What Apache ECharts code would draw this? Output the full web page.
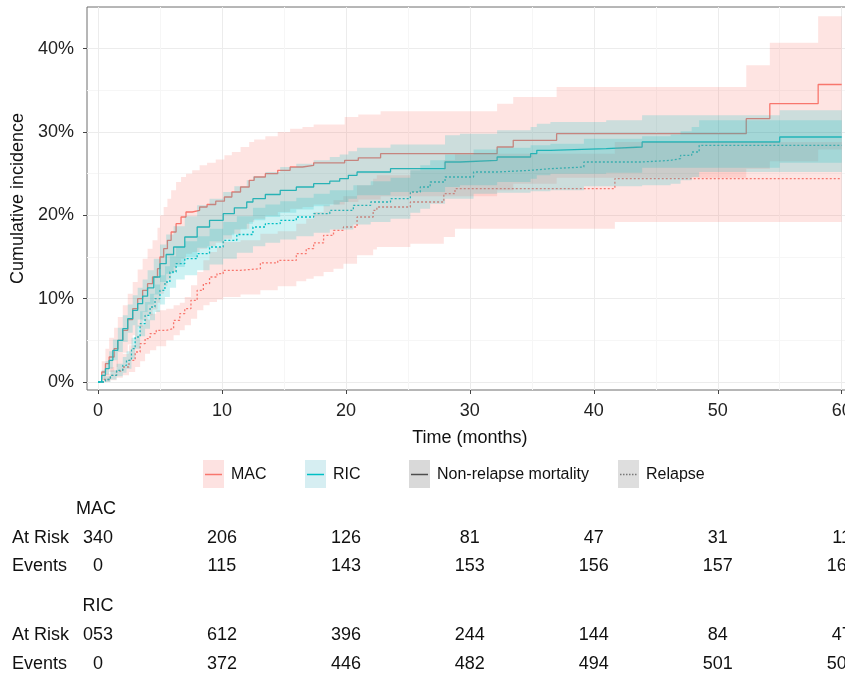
<!DOCTYPE html>
<html>
<head>
<meta charset="utf-8">
<script src="https://cdn.jsdelivr.net/npm/echarts@6/dist/echarts.min.js"></script>
<style>
  html, body { margin: 0; padding: 0; overflow: hidden; background: #fff; }
  #main { width: 900px; height: 678px; }
</style>
</head>
<body>
<div id="main"></div>
<script>
// x ticks (months) and y ticks (%)
const xTicks = [0, 10, 20, 30, 40, 50, 60]
const xMinor = [5, 15, 25, 35, 45, 55]
const yTicks = [0, 10, 20, 30, 40]
const yMinor = [5, 15, 25, 35]

// MAC, non-relapse mortality
const macNrmT = [0, 0.3, 0.6, 0.9, 1.3, 1.6, 2.0, 2.4, 2.8, 3.2, 3.6, 4.0, 4.4, 4.8, 5.0, 5.3, 5.6, 5.9, 6.3, 6.7, 7.1, 7.6, 8.2, 8.8, 9.5, 10.2, 10.8, 11.5, 12.2, 12.6, 13.5, 14.5, 15.5, 16.5, 17.4, 19.9, 21.0, 22.8, 32.2, 33.5, 37.0, 52.3, 54.2, 58.1, 60]
const macNrmEst = [0, 1.2, 2.2, 3.0, 4.0, 5.0, 6.2, 7.5, 8.8, 10.0, 11.0, 11.8, 12.6, 13.6, 15.0, 16.0, 17.0, 18.0, 19.0, 19.8, 20.4, 20.6, 21.0, 21.3, 21.7, 22.2, 22.8, 23.4, 24.2, 24.6, 25.0, 25.4, 25.8, 26.0, 26.3, 26.6, 26.9, 27.4, 28.2, 29.0, 29.8, 31.6, 33.4, 35.7, 35.7]
const macNrmLo = [0, 0.3, 0.8, 1.2, 1.8, 2.6, 3.5, 4.5, 5.6, 6.6, 7.4, 8.0, 8.7, 9.5, 10.6, 11.5, 12.3, 13.2, 14.1, 14.8, 15.4, 15.6, 16.0, 16.3, 16.7, 17.2, 17.8, 18.4, 19.2, 19.6, 20.0, 20.4, 20.8, 21.0, 21.3, 21.6, 21.9, 22.3, 23.0, 23.8, 24.5, 25.6, 26.5, 27.9, 27.9]
const macNrmHi = [0, 2.5, 4.0, 5.3, 6.5, 7.8, 9.2, 10.6, 12.0, 13.5, 14.8, 16.0, 17.0, 18.5, 20.0, 21.0, 22.0, 23.0, 24.0, 24.6, 25.0, 25.4, 26.0, 26.3, 26.7, 27.2, 27.6, 28.2, 28.8, 29.1, 29.5, 30.0, 30.4, 30.6, 30.9, 31.8, 32.1, 32.5, 33.4, 34.2, 35.4, 38.0, 40.7, 43.9, 43.9]

// MAC, relapse
const macRelT = [0, 0.5, 1.0, 1.5, 2.0, 2.5, 3.0, 3.4, 3.8, 4.2, 4.7, 5.5, 6.1, 6.6, 7.0, 7.5, 8.0, 8.5, 9.0, 9.6, 10.1, 11.5, 13.1, 14.5, 16.0, 16.8, 17.4, 18.2, 19.0, 19.8, 20.9, 22.2, 22.5, 25.2, 27.9, 28.8, 41.7, 60]
const macRelEst = [0, 0.3, 0.8, 1.3, 1.8, 2.6, 3.6, 4.6, 5.2, 5.8, 6.2, 6.4, 7.4, 8.2, 8.8, 9.8, 11.0, 11.8, 12.6, 13.0, 13.4, 13.6, 14.3, 14.6, 15.4, 16.0, 16.7, 17.6, 18.2, 18.6, 19.8, 20.6, 21.0, 21.6, 22.6, 23.2, 24.4, 24.4]
const macRelLo = [0, 0, 0.2, 0.5, 0.8, 1.2, 1.8, 2.5, 3.4, 3.8, 4.3, 5.0, 5.6, 6.2, 6.8, 7.6, 8.6, 9.2, 9.6, 9.9, 10.2, 10.5, 11.0, 11.5, 12.1, 12.4, 12.7, 13.2, 13.6, 14.2, 15.2, 15.9, 16.2, 16.6, 17.4, 18.4, 19.2, 19.2]
const macRelHi = [0, 1.0, 1.8, 2.6, 3.4, 4.4, 5.6, 6.8, 7.5, 8.2, 8.6, 8.8, 9.2, 9.5, 10.2, 11.6, 13.2, 14.6, 15.6, 16.2, 16.8, 17.0, 17.8, 18.1, 19.0, 19.6, 20.4, 21.2, 21.8, 22.3, 23.6, 24.4, 24.8, 25.4, 26.6, 27.4, 28.8, 28.8]

// RIC, non-relapse mortality
const ricNrmT = [0, 0.3, 0.6, 0.9, 1.2, 1.6, 2.0, 2.4, 2.8, 3.2, 3.6, 4.0, 4.5, 5.0, 5.5, 6.1, 7.0, 8.0, 9.0, 10.1, 11.0, 12.0, 12.5, 13.5, 14.7, 16.0, 17.4, 18.7, 19.5, 20.2, 20.9, 23.6, 28.0, 29.2, 32.2, 34.9, 35.4, 36.5, 41.0, 43.9, 55.0, 60]
const ricNrmEst = [0, 0.8, 1.6, 2.6, 3.8, 5.0, 6.4, 7.6, 8.6, 9.4, 10.3, 11.3, 12.6, 14.2, 15.3, 16.2, 17.4, 18.6, 19.4, 20.2, 20.9, 21.6, 22.0, 22.5, 23.0, 23.4, 23.8, 24.1, 24.4, 24.8, 25.2, 25.6, 26.4, 26.6, 27.0, 27.4, 27.8, 28.0, 28.2, 28.8, 29.4, 29.4]
const ricNrmLo = [0, 0.3, 0.9, 1.6, 2.6, 3.6, 4.8, 5.9, 6.8, 7.5, 8.4, 9.3, 10.5, 12.0, 13.0, 13.8, 15.0, 16.1, 16.9, 17.6, 18.3, 19.0, 19.4, 19.8, 20.3, 20.7, 21.1, 21.3, 21.6, 22.0, 22.4, 22.8, 23.4, 23.6, 24.0, 24.4, 24.8, 25.0, 25.1, 25.7, 26.3, 26.3]
const ricNrmHi = [0, 1.4, 2.5, 3.7, 5.1, 6.5, 8.0, 9.3, 10.4, 11.3, 12.3, 13.4, 14.8, 16.5, 17.7, 18.7, 19.9, 21.2, 22.0, 22.8, 23.5, 24.2, 24.7, 25.2, 25.8, 26.2, 26.6, 27.0, 27.3, 27.7, 28.1, 28.5, 29.6, 29.8, 30.2, 30.6, 31.0, 31.2, 31.4, 32.0, 32.6, 32.6]

// RIC, relapse
const ricRelT = [0, 0.6, 1.0, 1.5, 2.0, 2.3, 2.7, 3.0, 3.4, 3.8, 4.2, 4.6, 5.0, 5.4, 5.8, 6.3, 7.0, 8.0, 9.0, 10.1, 11.2, 12.5, 13.5, 14.7, 16.0, 17.4, 18.7, 20.6, 22.0, 23.6, 25.2, 26.0, 26.8, 28.0, 30.3, 32.2, 34.9, 36.5, 39.2, 43.9, 46.2, 47.0, 47.9, 48.5, 60]
const ricRelEst = [0, 0.3, 0.8, 1.4, 2.0, 2.6, 4.0, 5.4, 7.0, 8.0, 9.0, 10.0, 11.0, 12.0, 13.2, 14.2, 14.8, 15.4, 16.2, 17.0, 17.7, 18.6, 19.0, 19.4, 19.8, 20.2, 20.6, 21.2, 21.6, 22.0, 22.8, 23.4, 24.0, 24.6, 25.2, 25.4, 25.6, 25.8, 26.4, 26.6, 26.8, 27.2, 27.6, 28.4, 28.4]
const ricRelLo = [0, 0, 0.3, 0.7, 1.1, 1.6, 2.8, 4.0, 5.5, 6.4, 7.4, 8.4, 9.3, 10.2, 11.3, 12.3, 12.8, 13.4, 14.1, 14.8, 15.5, 16.3, 16.7, 17.1, 17.5, 17.9, 18.3, 18.9, 19.2, 19.6, 20.3, 20.8, 21.4, 22.0, 22.6, 22.7, 22.9, 23.0, 23.5, 23.6, 23.8, 24.2, 24.6, 25.2, 25.2]
const ricRelHi = [0, 0.7, 1.4, 2.2, 3.0, 3.7, 5.3, 6.8, 8.5, 9.6, 10.6, 11.7, 12.8, 13.9, 15.1, 16.2, 16.9, 17.5, 18.4, 19.2, 19.9, 20.9, 21.3, 21.7, 22.1, 22.6, 23.0, 23.6, 24.1, 24.5, 25.4, 26.0, 26.6, 27.3, 27.9, 28.1, 28.4, 28.6, 29.2, 29.5, 29.7, 30.1, 30.6, 31.4, 31.4]

// risk table (one value per x tick)
const macAtRisk = ['340', '206', '126', '81', '47', '31', '11']
const macEvents = ['0', '115', '143', '153', '156', '157', '160']
const ricAtRisk = ['053', '612', '396', '244', '144', '84', '47']
const ricEvents = ['0', '372', '446', '482', '494', '501', '502']

const MAC_COLOR = '#F8766D'
const RIC_COLOR = '#00BFC4'
const FONT = 'Liberation Sans, Arial, Helvetica, sans-serif'

const chart = echarts.init(document.getElementById('main'))

function pairs (t, v) {
  return t.map((x, i) => [x, v[i]])
}

// step line for one curve
function stepLine (name, t, v, color, dotted) {
  return {
    name: name,
    type: 'line',
    step: 'end',
    showSymbol: false,
    silent: true,
    z: 2,
    lineStyle: { color: color, width: 1.3, type: dotted ? [2, 2] : 'solid' },
    data: pairs(t, v)
  }
}

// confidence band drawn as one stepped polygon
function band (name, t, lo, hi, fill) {
  return {
    name: name,
    type: 'custom',
    silent: true,
    z: 3,
    encode: { x: 0, y: 1 },
    data: [[0, 0]],
    renderItem: function (params, api) {
      const pts = []
      for (let i = 0; i < t.length; i++) {
        const nx = i < t.length - 1 ? t[i + 1] : t[i]
        pts.push(api.coord([t[i], hi[i]]))
        pts.push(api.coord([nx, hi[i]]))
      }
      for (let i = t.length - 1; i >= 0; i--) {
        const nx = i < t.length - 1 ? t[i + 1] : t[i]
        pts.push(api.coord([nx, lo[i]]))
        pts.push(api.coord([t[i], lo[i]]))
      }
      return { type: 'polygon', shape: { points: pts }, style: { fill: fill } }
    }
  }
}

const X_MIN = -0.887
const X_MAX = 60.887
const Y_MIN = -0.96
const Y_MAX = 45

chart.setOption({
  animation: false,
  textStyle: { fontFamily: FONT },
  grid: {
    left: 87,
    top: 7,
    width: 765.7,
    height: 383,
    show: true,
    borderColor: '#6e6e6e',
    borderWidth: 1
  },
  xAxis: [
    {
      type: 'value',
      min: X_MIN,
      max: X_MAX,
      name: 'Time (months)',
      nameLocation: 'middle',
      nameGap: 39,
      nameTextStyle: { fontSize: 18, color: '#111', fontFamily: FONT },
      axisLine: { show: false, onZero: false },
      axisTick: { show: true, length: 4, customValues: xTicks, lineStyle: { color: '#444' } },
      axisLabel: { customValues: xTicks, margin: 12, fontSize: 18, color: '#222', fontFamily: FONT },
      splitLine: { show: true, lineStyle: { color: '#ececec', width: 1 } }
    },
    {
      type: 'value',
      position: 'top',
      min: X_MIN,
      max: X_MAX,
      axisLine: { show: false, onZero: false },
      axisTick: { show: false, customValues: xMinor },
      axisLabel: { show: false },
      splitLine: { show: true, lineStyle: { color: '#f6f6f6', width: 1 } }
    }
  ],
  yAxis: [
    {
      type: 'value',
      min: Y_MIN,
      max: Y_MAX,
      name: 'Cumulative incidence',
      nameLocation: 'middle',
      nameGap: 50,
      nameTextStyle: { fontSize: 18, color: '#111', fontFamily: FONT },
      axisLine: { show: false, onZero: false },
      axisTick: { show: true, length: 4, customValues: yTicks, lineStyle: { color: '#444' } },
      axisLabel: { customValues: yTicks, margin: 13, fontSize: 18, color: '#222', fontFamily: FONT, formatter: '{value}%' },
      splitLine: { show: true, lineStyle: { color: '#ececec', width: 1 } }
    },
    {
      type: 'value',
      position: 'right',
      min: Y_MIN,
      max: Y_MAX,
      axisLine: { show: false, onZero: false },
      axisTick: { show: false, customValues: yMinor },
      axisLabel: { show: false },
      splitLine: { show: true, lineStyle: { color: '#f6f6f6', width: 1 } }
    }
  ],
  series: [
    stepLine('MAC NRM', macNrmT, macNrmEst, MAC_COLOR, false),
    stepLine('MAC Relapse', macRelT, macRelEst, MAC_COLOR, true),
    stepLine('RIC NRM', ricNrmT, ricNrmEst, RIC_COLOR, false),
    stepLine('RIC Relapse', ricRelT, ricRelEst, RIC_COLOR, true),
    band('MAC NRM band', macNrmT, macNrmLo, macNrmHi, 'rgba(248,118,109,0.2)'),
    band('MAC Relapse band', macRelT, macRelLo, macRelHi, 'rgba(248,118,109,0.2)'),
    band('RIC NRM band', ricNrmT, ricNrmLo, ricNrmHi, 'rgba(0,191,196,0.2)'),
    band('RIC Relapse band', ricRelT, ricRelLo, ricRelHi, 'rgba(0,191,196,0.2)')
  ]
})

// legend keys + risk table
const graphics = []

function legendKey (x, label, fill, lineColor, dotted) {
  graphics.push({ type: 'rect', left: x, top: 460, shape: { width: 21, height: 28 }, style: { fill: fill } })
  graphics.push({
    type: 'line',
    shape: { x1: x + 2, y1: 474.5, x2: x + 19, y2: 474.5 },
    style: { stroke: lineColor, lineWidth: 1.5, lineDash: dotted ? [1.5, 1.5] : null }
  })
  graphics.push({
    type: 'text', x: x + 28, y: 474.5,
    style: { text: label, fontSize: 16, fontFamily: FONT, fill: '#111', verticalAlign: 'middle', align: 'left' }
  })
}

legendKey(203, 'MAC', '#fde2e1', MAC_COLOR, false)
legendKey(305, 'RIC', '#d6eef2', RIC_COLOR, false)
legendKey(409, 'Non-relapse mortality', '#d9d9d9', '#4d4d4d', false)
legendKey(618, 'Relapse', '#dedede', '#777777', true)

function tableText (x, y, text, align) {
  graphics.push({
    type: 'text', x: x, y: y,
    style: { text: text, fontSize: 18, fontFamily: FONT, fill: '#111', align: align, verticalAlign: 'middle' }
  })
}

function tableRow (y, label, values) {
  tableText(12, y, label, 'left')
  values.forEach((v, i) => {
    const px = chart.convertToPixel({ xAxisIndex: 0 }, xTicks[i])
    tableText(px, y, v, 'center')
  })
}

const col0 = chart.convertToPixel({ xAxisIndex: 0 }, xTicks[0])
tableText(col0 - 2, 509, 'MAC', 'center')
tableRow(538, 'At Risk', macAtRisk)
tableRow(566, 'Events', macEvents)
tableText(col0, 606, 'RIC', 'center')
tableRow(635, 'At Risk', ricAtRisk)
tableRow(664, 'Events', ricEvents)

chart.setOption({ graphic: graphics })
</script>
</body>
</html>
